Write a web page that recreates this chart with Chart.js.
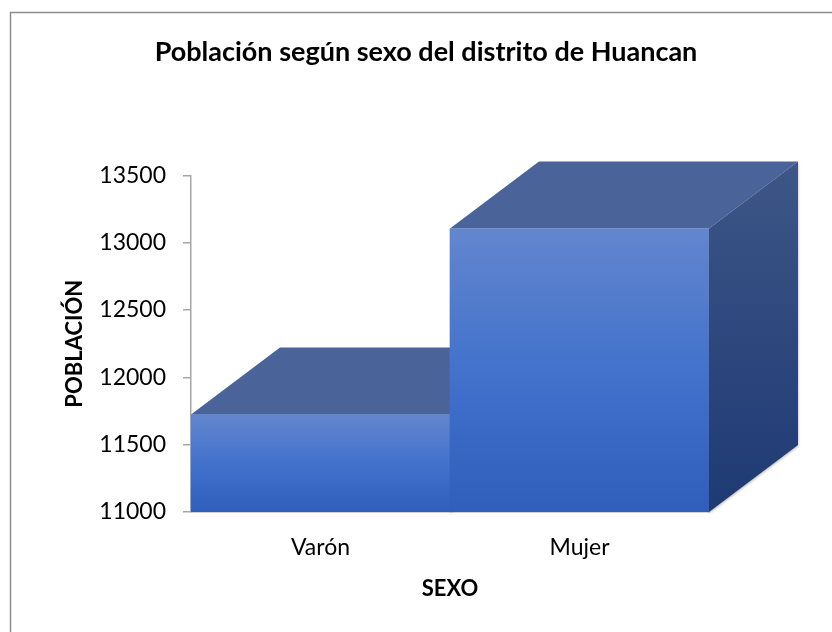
<!DOCTYPE html>
<html><head><meta charset="utf-8">
<script src="https://cdn.jsdelivr.net/npm/chart.js@4.4.1/dist/chart.umd.min.js"></script>
<style>html,body{margin:0;padding:0;background:#fff;}</style>
</head><body>
<canvas id="c" width="832" height="632"></canvas>
<script>
const categories = ['Varón', 'Mujer'];
const poblacion = [11725, 13105];
const yTicks = [11000, 11500, 12000, 12500, 13000, 13500];
const chartTitle = 'Población según sexo del distrito de Huancan';
const xTitle = 'SEXO';
const yTitle = 'POBLACIÓN';

const FONT = 'Lato, "Open Sans", sans-serif';
const AXIS_COLOR = '#a6a6a6';

const framePlugin = {
  id: 'frame',
  beforeDraw(chart) {
    const ctx = chart.ctx;
    ctx.save();
    ctx.fillStyle = '#fff';
    ctx.fillRect(0, 0, chart.width, chart.height);
    ctx.strokeStyle = '#8c8c8c';
    ctx.lineWidth = 1.5;
    ctx.beginPath();
    ctx.moveTo(10.5, chart.height);
    ctx.lineTo(10.5, 12.5);
    ctx.lineTo(chart.width, 12.5);
    ctx.stroke();
    ctx.restore();
  }
};

const bar3dPlugin = {
  id: 'bar3d',
  beforeDatasetsDraw(chart, args, opts) {
    const ctx = chart.ctx;
    const meta = chart.getDatasetMeta(0);
    const dx = opts.dx, dy = opts.dy;
    const floor = chart.chartArea.bottom;
    ctx.save();
    meta.data.forEach((bar) => {
      const p = bar.getProps(['x', 'y', 'base', 'width'], true);
      const l = p.x - p.width / 2, r = p.x + p.width / 2, t = p.y;
      const b = Math.min(p.base, floor);
      // side face
      ctx.save();
      ctx.shadowColor = 'rgba(0,0,0,0.35)';
      ctx.shadowBlur = 3;
      ctx.shadowOffsetY = 1;
      const sg = ctx.createLinearGradient(0, t + dy, 0, b);
      sg.addColorStop(0, '#3e5687');
      sg.addColorStop(1, '#1e3a74');
      ctx.fillStyle = sg;
      ctx.beginPath();
      ctx.moveTo(r, t);
      ctx.lineTo(r + dx, t + dy);
      ctx.lineTo(r + dx, b + dy);
      ctx.lineTo(r, b);
      ctx.closePath();
      ctx.fill();
      ctx.restore();
      // top face
      ctx.fillStyle = '#4a6399';
      ctx.beginPath();
      ctx.moveTo(l, t);
      ctx.lineTo(l + dx, t + dy);
      ctx.lineTo(r + dx, t + dy);
      ctx.lineTo(r, t);
      ctx.closePath();
      ctx.fill();
    });
    ctx.restore();
  }
};

function frontFill(context) {
  const chart = context.chart;
  const area = chart.chartArea;
  if (!area || !chart.scales.y) return '#4474cd';
  const yTop = chart.scales.y.getPixelForValue(poblacion[context.dataIndex]);
  const g = chart.ctx.createLinearGradient(0, yTop, 0, area.bottom);
  g.addColorStop(0, '#6386ce');
  g.addColorStop(0.5, '#4272cc');
  g.addColorStop(1, '#2f5ebb');
  return g;
}

new Chart(document.getElementById('c'), {
  type: 'bar',
  data: {
    labels: categories,
    datasets: [{
      label: yTitle,
      data: poblacion,
      backgroundColor: frontFill,
      borderWidth: 0,
      barPercentage: 1,
      categoryPercentage: 1
    }]
  },
  plugins: [framePlugin, bar3dPlugin],
  options: {
    responsive: false,
    animation: false,
    devicePixelRatio: 1,
    layout: { padding: { left: 30, right: 10, top: 0, bottom: 0 } },
    plugins: {
      legend: { display: false },
      tooltip: { enabled: false },
      bar3d: { dx: 89, dy: -67 },
      title: {
        display: true,
        text: chartTitle,
        color: '#000',
        font: { family: FONT, size: 27, weight: 'bold' },
        padding: { top: 36, bottom: 107 }
      }
    },
    scales: {
      x: {
        grid: { drawOnChartArea: false, drawTicks: false },
        border: { display: true, color: AXIS_COLOR, width: 1.5 },
        ticks: { color: '#000', font: { family: FONT, size: 23 }, padding: 22 },
        title: {
          display: true, text: xTitle, color: '#000',
          font: { family: FONT, size: 22, weight: 'bold' },
          padding: { top: 0, bottom: 30 }
        },
        afterFit: (s) => { s.height = 120; }
      },
      y: {
        min: yTicks[0],
        max: yTicks[yTicks.length - 1],
        afterBuildTicks: (s) => { s.ticks = yTicks.map(v => ({ value: v })); },
        ticks: { color: '#000', font: { family: FONT, size: 23 }, padding: 17, callback: (v) => String(v) },
        grid: { drawOnChartArea: false, drawTicks: true, tickLength: 8, color: AXIS_COLOR, lineWidth: 1.5 },
        border: { display: true, color: AXIS_COLOR, width: 1.5 },
        title: {
          display: true, text: yTitle, color: '#000',
          font: { family: FONT, size: 22, weight: 'bold' },
          padding: { top: 32, bottom: 0 }
        },
        afterFit: (s) => { s.width = 161; }
      },
      y2: {
        position: 'right',
        display: true,
        ticks: { display: false },
        grid: { display: false },
        border: { display: false },
        afterFit: (s) => { s.width = 113; }
      }
    }
  }
});
</script>
</body></html>
